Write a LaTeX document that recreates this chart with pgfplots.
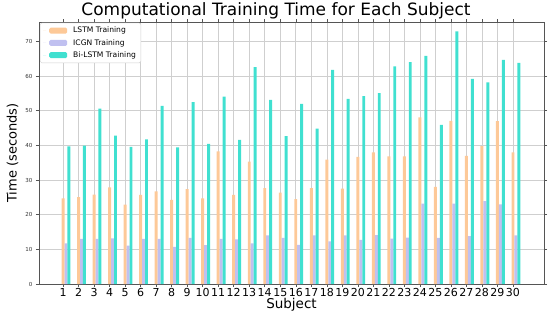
\documentclass[border=0pt]{standalone}
\usepackage{pgfplots}
\usepackage{pgfplotstable}
\usepackage{fontspec}
\setmainfont{DejaVu Sans}
\pgfplotsset{compat=1.18}

\definecolor{lstmc}{HTML}{FDC998}
\definecolor{icgnc}{HTML}{C0C0F0}
\definecolor{bilstmc}{HTML}{40E0D0}
\definecolor{gridc}{HTML}{CFCFCF}
\definecolor{framec}{HTML}{555555}

% subject, LSTM, ICGN, Bi-LSTM training time (s)
\pgfplotstableread{
s lstm icgn bilstm
1 24.7 11.7 39.7
2 25.1 13.0 39.9
3 25.8 13.0 50.6
4 27.9 13.2 42.8
5 22.9 11.1 39.6
6 25.7 13.0 41.7
7 26.7 13.0 51.4
8 24.3 10.7 39.4
9 27.4 13.3 52.5
10 24.7 11.2 40.4
11 38.3 13.0 54.1
12 25.7 12.9 41.6
13 35.3 11.7 62.6
14 27.7 14.0 53.1
15 26.4 13.3 42.7
16 24.5 11.3 52.0
17 27.7 14.0 44.8
18 35.9 12.3 61.8
19 27.5 14.0 53.4
20 36.7 12.7 54.2
21 38.0 14.1 55.1
22 36.8 13.1 62.8
23 36.8 13.4 64.0
24 48.1 23.2 65.8
25 28.0 13.3 45.9
26 47.1 23.2 72.9
27 37.0 13.8 59.2
28 39.8 23.9 58.2
29 47.0 23.0 64.7
30 38.0 14.0 63.8
}\times

\begin{document}
\begin{tikzpicture}
\begin{axis}[
  name=ax,
  width=505pt, height=262pt, scale only axis,
  xmin=-0.55, xmax=32.0,
  ymin=0, ymax=75.6,
  xtick={1,...,30},
  ytick={0,10,...,70},
  /pgf/number format/assume math mode=true,
  xticklabel style={font=\fontsize{11}{12}\selectfont, inner sep=1pt},
  yticklabel style={font=\fontsize{5.5}{6}\selectfont, color=black!80},
  tick align=outside, major tick length=3pt,
  tick style={framec, line width=0.5pt},
  axis line style={framec, line width=0.8pt},
  grid=major, grid style={gridc, line width=0.6pt},
  xlabel={Subject},
  xlabel style={font=\fontsize{13.5}{14}\selectfont, yshift=3pt},
  ybar, bar width=0.19,
  legend style={at={(0.002,0.997)}, anchor=north west, draw=black!18,
    rounded corners=1.5pt, font=\fontsize{7.6}{9}\selectfont,
    inner xsep=3pt, inner ysep=2pt, row sep=1pt},
  legend cell align=left,
  legend image code/.code={\path (0pt,0pt) -- (3pt,0pt); \fill[#1] (6pt,-3pt) rectangle (24pt,3pt); \path (28pt,0pt);},
]
\addplot[draw=none, fill=lstmc, bar shift=0] table[x=s, y=lstm] {\times};
\addlegendentry{LSTM Training}
\addplot[draw=none, fill=icgnc, bar shift=0.19] table[x=s, y=icgn] {\times};
\addlegendentry{ICGN Training}
\addplot[draw=none, fill=bilstmc, bar shift=0.38] table[x=s, y=bilstm] {\times};
\addlegendentry{Bi-LSTM Training}
\end{axis}
\node[anchor=base, font=\fontsize{17}{18}\selectfont] at ([shift={(237pt,7pt)}]ax.north west) {Computational Training Time for Each Subject};
\node[rotate=90, anchor=center, font=\fontsize{13}{14}\selectfont] at ([shift={(-26.5pt,0pt)}]ax.west) {Time (seconds)};
\pgfresetboundingbox
\path ([shift={(-39pt,-32pt)}]ax.south west) rectangle ([shift={(6pt,22pt)}]ax.north east);
\end{tikzpicture}
\end{document}
